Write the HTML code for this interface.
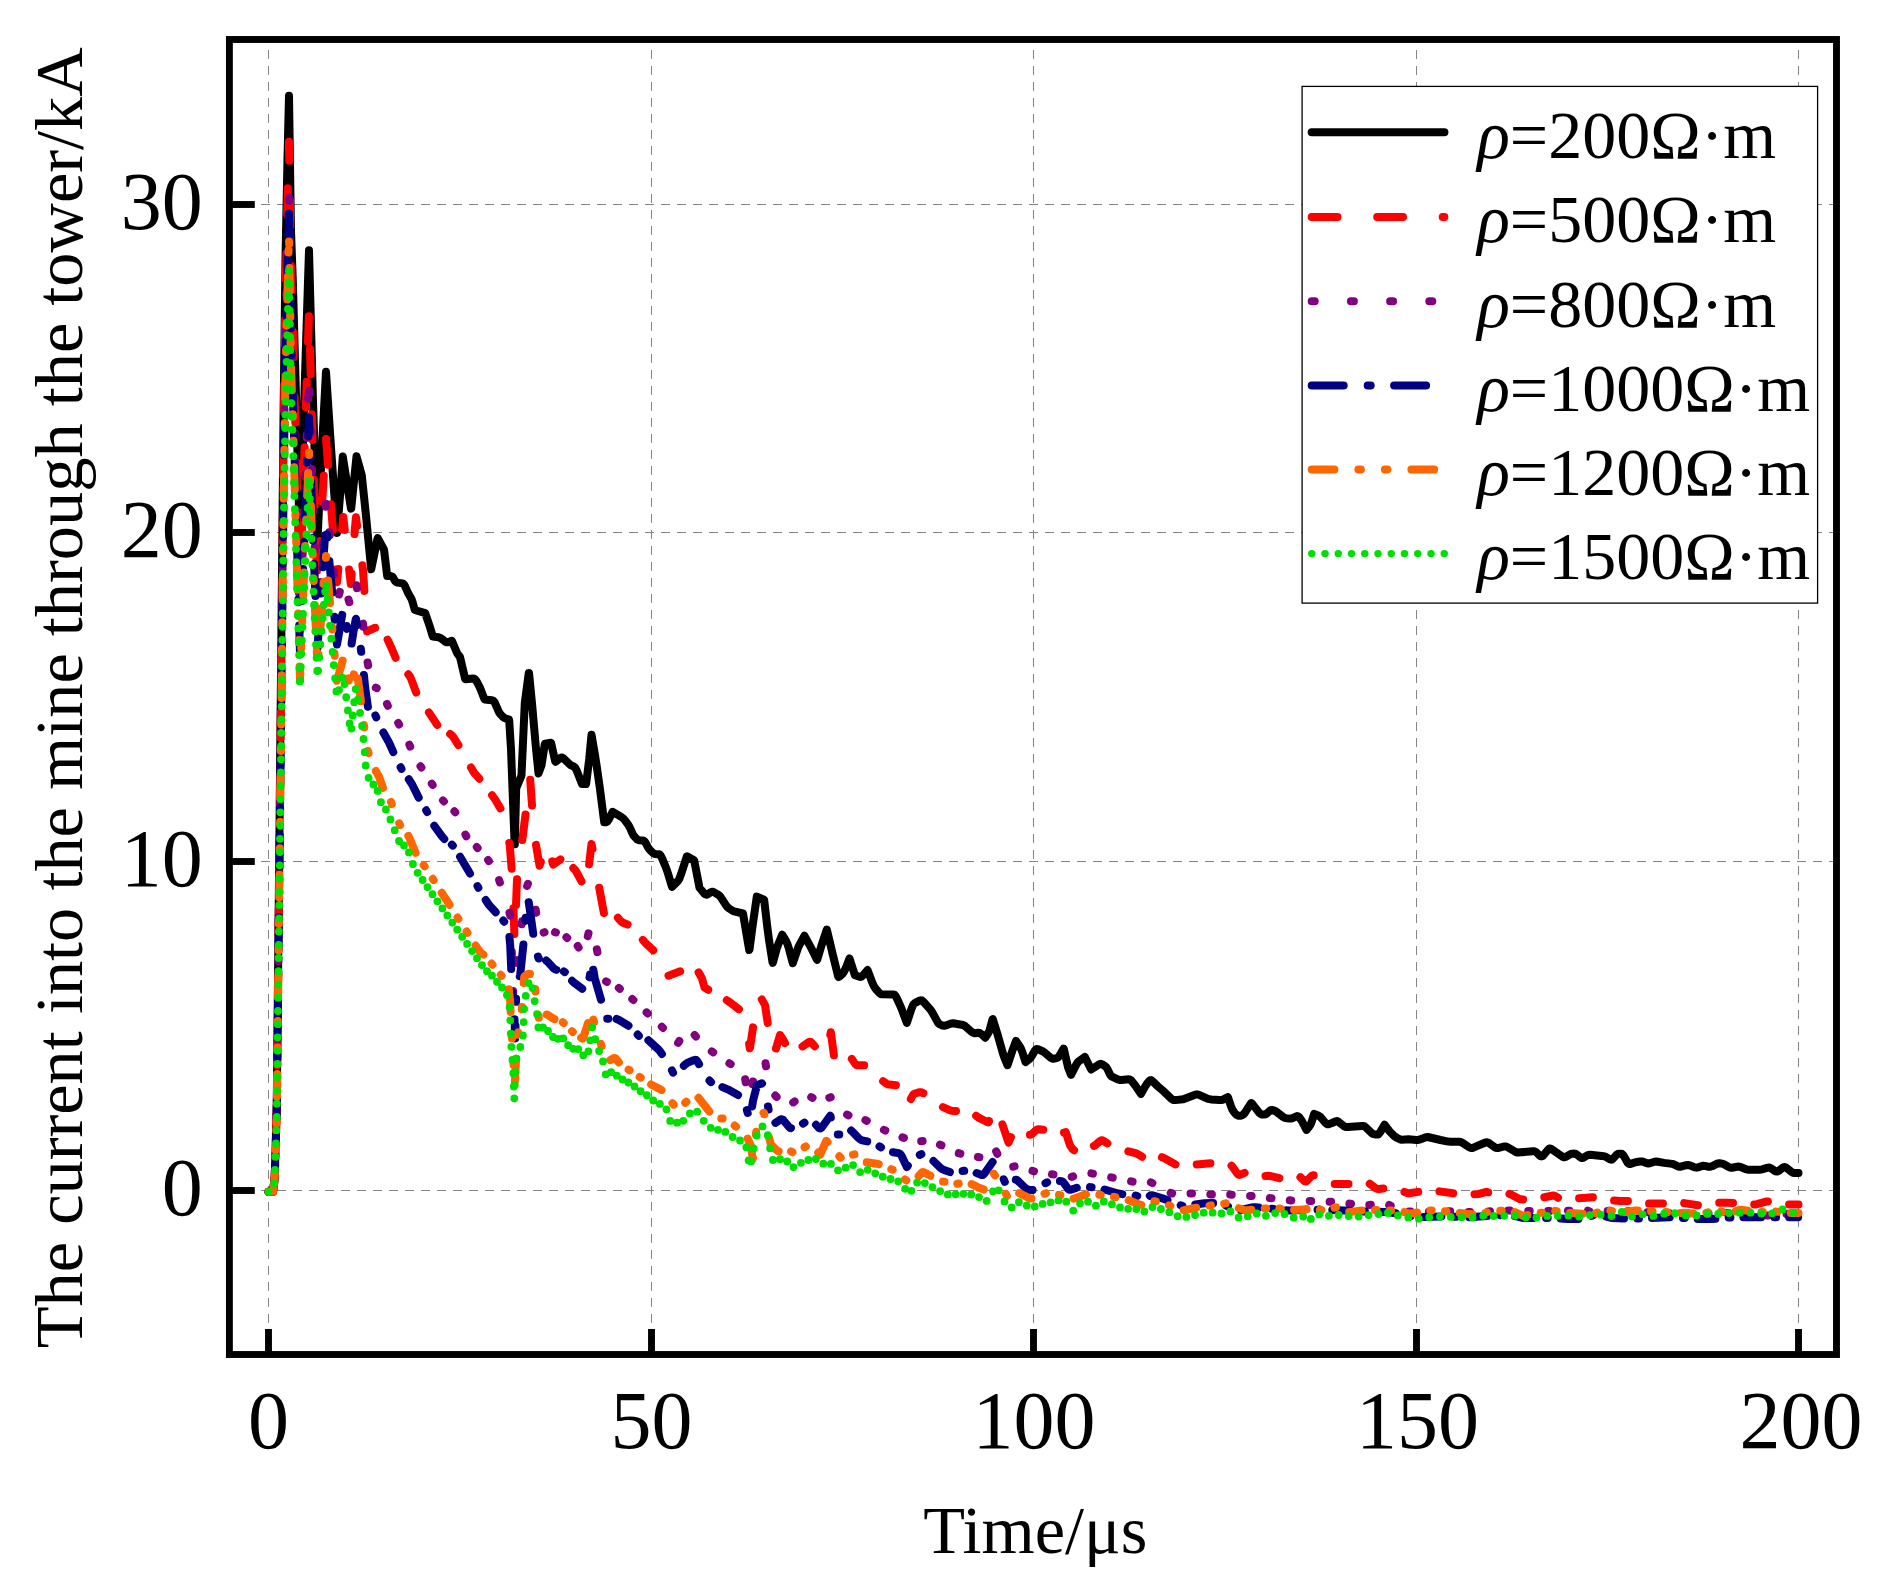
<!DOCTYPE html>
<html lang="en"><head><meta charset="utf-8"><title>Current into the mine through the tower</title>
<style>html,body{margin:0;padding:0;background:#fff}svg{display:block}text{font-family:"Liberation Serif","DejaVu Serif",serif;fill:#000}</style></head><body>
<svg width="1887" height="1595" viewBox="0 0 1887 1595">
<rect width="1887" height="1595" fill="#fff"/>
<defs><clipPath id="ax"><rect x="229.4" y="39.5" width="1607.1" height="1315.0"/></clipPath></defs>
<g stroke="#858585" stroke-width="1" stroke-dasharray="8.9 7.1" fill="none" shape-rendering="crispEdges" clip-path="url(#ax)">
<path d="M268.5 1354.5 V39.5"/>
<path d="M651.5 1354.5 V39.5"/>
<path d="M1033.5 1354.5 V39.5"/>
<path d="M1416.5 1354.5 V39.5"/>
<path d="M1798.5 1354.5 V39.5"/>
<path d="M229.4 1190.5 H1836.5"/>
<path d="M229.4 861.5 H1836.5"/>
<path d="M229.4 532.5 H1836.5"/>
<path d="M229.4 204.5 H1836.5"/>
</g>
<g fill="none" stroke-linejoin="round" stroke-linecap="round" clip-path="url(#ax)">
<path stroke="#000000" stroke-width="8.0" d="M268.5 1191.8L273 1191.8L274.5 1178.8L274.8 1175.3L276.8 1103.3L283.5 417.8L285.5 258.3L287.5 158.2L289 95.7L291 230.5L293 286.4L300 546L304.5 391.5L309 250.2L313 401.4L317.5 539.4L322 447.4L326 371.8L331 447.4L337 532.9L340.5 490.1L342.8 456.6L351 508.6L351.2 508.5L356.5 456.3L361.8 475.4L366 515.8L371.2 569.3L377.5 538.7L377.8 538.1L384 549.6L387.2 576.1L390.8 576.1L392.2 576.5L393 577.4L395.2 581.2L396 582L397.5 582.6L402.5 583.4L403.2 583.7L404 584.4L405.2 586.5L408.2 593.3L411.5 599L412.5 601.9L414.8 610L425.2 613.1L429.5 625.7L432.8 636.5L438.5 637.3L440 637.8L441.5 638.7L445.2 641.7L446.5 642.3L448 642.2L451.8 640.8L452 641.1L457.2 653.3L460 657L465.2 679L465.5 679.2L473.2 678.4L474.2 678.6L475 679.1L476.8 681.6L479.8 687.3L484.5 699.4L491.8 700.2L493.2 700.8L494 701.5L494.8 702.7L498.5 711.2L499.5 713L500.5 714.3L503 716.9L504.5 718.1L507.5 719.2L509 719.5L509.2 720.6L511 749.1L514.5 841.3L514.8 844.3L516.2 788.2L521.2 776.2L521.5 775.1L524.8 702.9L528.8 672.9L529 672.9L532 703.4L535.8 746.5L538.5 773.4L541.5 765.4L544.8 744.1L545 743.8L551 742.8L551.2 743.3L555.2 761.3L555.5 761.8L560.8 757.6L561.8 757.4L563 758L569.8 764.4L571.2 765.4L574 766.7L575.2 767.8L577 771.2L582 784.1L586 784.1L586.2 783.2L589.2 759.2L591.5 734.8L595 755.1L597 768.1L599.8 787.7L604.2 822.3L606.2 822.2L607.2 821.7L608.8 819.4L612.5 811.9L612.8 811.8L621.2 816.9L623.2 818.4L625 820.4L628.5 825.2L629.8 827.5L633 834.7L634 836.1L635.8 838L637.2 839.4L638.5 840.1L639.5 840.3L643 840.4L644.2 841L645.5 842.7L648 847.3L649.2 849.2L651.5 851.6L653.5 853.4L655 854L659 854.2L659.8 854.6L660.5 855.3L662.2 858.6L666.2 868.2L668 873.5L672 886.9L677.8 881.1L678.8 879.8L679.5 878.4L681.2 873.7L686.8 856.4L687 856.3L694 860.3L694.2 860.5L699.5 887.8L704 893.2L705.2 894.3L706.5 894.7L707.5 894.3L710.5 892.4L711.8 891.8L712.8 891.8L714.2 892.4L718.2 894.7L719.8 896L721.2 897.9L726.2 905.6L727.5 907.1L728.8 908.2L732.2 910.5L734 911.4L743 913.5L749.2 950L749.5 949.4L752.5 926.6L756.8 896.6L764 899.6L764.2 900.2L767.2 926.3L769 939.9L772.5 962.2L772.8 962.9L777 947.7L778.8 943L782.2 934.7L786 940.8L787.5 944.1L789 948.9L792.8 963.1L798.2 947.5L800 943.9L804.5 935.8L810.8 947.3L817 959.7L817.2 959.8L821.8 944.4L826.8 929.5L833 955.5L838.2 976.5L838.5 977L840 976.2L842.8 973.5L844 971.8L845.8 968.1L849.5 958.4L854.8 975L855 975.3L859.5 976.8L860.5 976.9L861.2 976.7L862.8 975.5L867.5 970L872.5 983.1L874 986.4L875.8 989L879.5 993.2L880.8 994L882 994.3L893.5 994.4L894.5 994.8L895.5 995.8L897.2 999L901.2 1007.8L906.8 1022.9L911.5 1008.8L913.2 1004.8L914 1003.8L915.2 1002.8L919.5 1000.7L921 1000.3L922 1000.5L923.2 1001.5L930.2 1009.3L932.2 1012.3L937.5 1021.9L938.5 1023.3L939.8 1024.4L942.5 1025.5L944.2 1025.8L945.8 1025.4L951.2 1023.4L953 1023.2L963 1025L964 1025.4L965.2 1026.2L971.5 1031.7L973 1032.8L974.5 1033.3L978.5 1032.8L979.8 1032.9L981.2 1033.9L985.2 1037.7L988 1033.5L989.5 1030.5L992.5 1019.2L992.8 1019.1L997.8 1035.3L1003 1053.6L1004.5 1057.9L1007.5 1065.2L1012.2 1051.2L1016 1041L1019.5 1046L1021 1048.7L1022.5 1052.6L1025.5 1062.1L1029 1059.3L1030.5 1057.8L1031.8 1056.1L1035 1050.5L1035.8 1049.6L1036.5 1049.1L1037.2 1049.1L1038 1049.2L1043 1051.5L1044.8 1052.7L1051 1058L1052 1058.5L1053.2 1058.7L1056.8 1058.1L1058.2 1057.3L1059.8 1055.3L1063.5 1048.6L1063.8 1048.9L1068 1067.2L1071 1074.8L1076 1065.1L1077.5 1062.6L1079.2 1060.9L1084.8 1056.9L1091.2 1069.5L1099.5 1064.1L1100.8 1063.8L1102 1064.2L1105 1066.1L1106.5 1067.5L1107.5 1069.1L1110 1074.5L1111 1075.9L1112 1076.6L1117.8 1079.3L1119.8 1079.9L1121.5 1080L1128.8 1079.3L1129.8 1079.5L1130.8 1080L1132.2 1081.6L1135.8 1086.3L1141 1093.9L1145.2 1086.4L1147 1083.6L1149.5 1080.7L1150.2 1080.2L1151 1080.1L1152.2 1080.9L1158 1086.5L1164.2 1091.8L1171.5 1098.9L1173.2 1100L1175.2 1100.1L1183.2 1099.2L1195.2 1094.7L1197 1094.3L1199 1094.8L1208 1098.8L1211 1099.4L1219.5 1100.1L1221.2 1100.1L1223 1099.6L1227.8 1097.2L1228 1097.4L1231 1106.3L1232.5 1109.8L1233.8 1111.8L1235.2 1113.6L1236.5 1114.8L1237.5 1115.4L1239 1115.8L1240.5 1115.8L1242.2 1115.2L1243.5 1114.4L1245 1112.6L1251.2 1102.9L1251.5 1102.9L1259.2 1112.7L1260.5 1113.9L1261.5 1114.4L1263.8 1114.6L1265.5 1114.3L1266.8 1113.5L1270 1110.6L1270.8 1110.2L1271.8 1110L1273.8 1110.5L1276 1111.5L1283.2 1117L1284.5 1117.7L1285.5 1118.1L1289.2 1118.6L1291 1118.6L1292.5 1118.2L1296.5 1116.3L1297.2 1116.1L1298 1116.3L1299.5 1117.6L1301.8 1120.8L1306.5 1129.9L1309.2 1126.5L1310.8 1124L1311.8 1121.4L1314 1114.2L1314.2 1113.8L1318.5 1115.7L1320 1116.6L1321.5 1118.2L1325.5 1123L1327 1124.2L1328 1124.3L1329.2 1124L1332 1123L1335.5 1121.4L1336.8 1121.1L1338.2 1121.6L1344.2 1126.3L1346 1127.1L1347.8 1127.1L1362 1125.9L1363.5 1125.9L1364.5 1126.3L1365.5 1127.1L1372 1133.3L1373.2 1134L1375 1134.5L1377.5 1134.6L1378.2 1134.4L1379 1133.7L1380.5 1131.6L1384.5 1124.8L1389.5 1131.3L1394 1135.9L1395.2 1136.8L1397.2 1138L1400.2 1139.4L1401.8 1139.8L1408.5 1139.3L1416.5 1139.9L1418.2 1139.9L1420 1139.4L1425.8 1137.2L1427.8 1137L1440.5 1140L1448.2 1141.6L1450.5 1141.7L1459 1141.8L1460.5 1142L1462.5 1142.9L1469.5 1147.5L1471.2 1148.1L1472.2 1148L1473.8 1147.4L1485.5 1142.5L1487 1142.3L1488.5 1142.8L1494.8 1147.3L1496.2 1148L1497.8 1148.1L1504 1146.5L1505.8 1146.4L1507.5 1147.1L1515.5 1151.9L1517.5 1152.6L1532.8 1151.3L1534.5 1151.3L1536 1152L1539.5 1155.4L1540.5 1156.1L1541.2 1156.4L1542 1156.3L1543 1155.7L1548.2 1149.5L1549.2 1148.7L1550 1148.5L1550.8 1148.6L1551.8 1149.2L1562.2 1156.5L1564 1157.3L1565.5 1156.9L1570.8 1153.9L1572 1153.7L1574.2 1153.6L1575.5 1153.8L1576.5 1154.3L1580.5 1157.4L1581.8 1158L1582.5 1158L1583.2 1157.8L1588.2 1154.9L1590.2 1154.7L1604 1156.2L1605.8 1156.8L1610 1159.4L1611.2 1159.7L1612 1159.5L1612.8 1158.9L1616 1155.4L1617.2 1154.3L1618.5 1153.7L1620.8 1153.7L1622 1154L1623 1154.9L1624 1156.3L1627.5 1162.5L1628.5 1163.6L1629.5 1164L1630.5 1163.9L1635.5 1162.2L1640.2 1161.5L1642.5 1161.6L1646.8 1163.2L1648.2 1163.5L1649.8 1163.2L1654.5 1161.7L1656.2 1161.5L1664.2 1162.9L1672.2 1163.9L1673.8 1164.4L1678 1166.4L1679.2 1166.8L1680.8 1166.7L1686.2 1165.2L1688 1165L1689.5 1165.3L1695 1167.4L1696.5 1167.7L1698 1167.4L1702 1166L1703.2 1165.8L1704.8 1165.9L1708.8 1166.8L1710.2 1166.8L1711.8 1166.3L1717.2 1163.6L1718.5 1163.2L1719.5 1163.2L1722 1163.6L1723.5 1164L1728.8 1167L1730.2 1167.7L1731.8 1167.7L1737.2 1166.7L1738.8 1166.6L1740.5 1167L1746.2 1169.3L1748 1169.7L1760.2 1169.7L1762 1169.3L1767.8 1167.7L1769.2 1167.6L1770.8 1168.2L1775.5 1171.3L1776.8 1171.6L1777.5 1171.5L1778.5 1171L1783.2 1167.4L1784 1167.1L1784.8 1167L1786.2 1167.7L1791.5 1171.9L1793 1172.8L1794.5 1173.1L1798.5 1173.1"/>
<path stroke="#ff0000" stroke-width="8.0" d="M268.5 1191.8L273 1191.8L274.5 1179.3L274.9 1170.6M276.1 1131L276.8 1105.2M277.2 1065.5L277.5 1039.7M277.9 1000L278.1 974.2M278.5 934.5L278.8 908.7M279.2 869L279.5 843.2M279.9 803.5L280.2 777.7M280.6 738L280.8 712.2M281.2 672.5L281.5 646.7M281.9 607L282.2 581.2M282.6 541.5L282.8 515.7M283.2 476L283.5 450.2M284 410.5L284.3 384.7M284.9 345L285.2 319.2M285.9 279.5L286.4 253.7M287.2 214L287.8 188.2M288.8 148.6L289 141.7L289.3 160.7M289.9 200.4L290.2 226.2M290.8 265.9L291 278.5L291.5 291.7M292.9 331.4L293.6 357.2M294.6 396.9L295.3 422.6M296.4 462.3L297.1 488.1M298.1 527.8L298.8 553.6M299.9 593.3L300 598.6L300.6 578.1M301.8 538.4L302.6 512.6M303.8 473L304.6 447.2M305.9 407.5L306.7 381.7M308 342L308.9 316.2M310 348.7L310.7 374.5M311.8 414.2L312.5 440M313.8 479.7L314.7 505.5M316 545.1L316.9 570.9M318.7 566.9L320.1 541.1M322.2 501.5L323.8 475.7M326.1 439L328 464.7M330.9 504.3L332.9 530M336 569.6L337 582.2L338.3 569M342.1 529.5L343.2 517L344.8 530M349.1 569.5L350.8 584.1L351 584L351.7 573.7M354.5 534.1L355.8 518.3L356 517.2L357.1 525.9M362.4 565.2L363 570L364.4 590.9M366.9 630.5L367 631.4L374.5 628L375.1 627.9M387.6 639.6L392.2 649.7L395.6 657.8M408.3 674.3L409.8 676.2L411 678.7L416.2 692.5M428.9 712.4L437.2 724.9M450.1 734L452 735.4L453.2 736.9L458.4 745.2M471 767.5L474.2 772.9L479.3 778.7M492.1 795.2L495.5 800L500.4 808.4M509.3 843L509.8 845.3L510 848L511.6 868.7M513.4 908.3L514.4 934.1M516 905.1L517 879.3M522.3 840.1L525.5 814.5M530.2 779.7L532 805.4M536 844.9L539.5 865.7L540.8 861.9M552.2 861.3L553.2 864.6L560.4 859.4M573.3 868.1L575 869.8L576.2 871.5L581.5 881.4M589.1 864.4L591.5 843.9L592.5 848.8M599.2 887.8L603.9 913M617.9 917.7L620 920.4L621.5 921.8L623 922.7L627.5 924.5M642.8 939.9L646.2 943.8L653.2 950.3M668.5 975.7L680.2 971.3M698.6 972.4L700.2 975.1L701.8 977.9L704.5 987.5L708.3 989.7M726.8 1000.2L730 1002.4L738.9 1009.2M749.1 1043.9L749.8 1048.3L750 1047.9L753 1027.4M761.8 999.4L765 1005.1L767.7 1022.9M776 1048.5L780 1035.1L780.2 1035.2L783 1039.4L785 1043.1M802.5 1046.4L808.2 1042.4L809.2 1041.9L810 1041.7L810.8 1042L811.5 1042.6L814.8 1046.3M830.3 1034.5L830.8 1032.2L831 1033.4L833.9 1055.3M851.8 1058.9L854.8 1063.4L855.8 1064.5L856.5 1065L858 1065.3L864.2 1065.3M883.1 1081.3L886.5 1083.6L888 1084.3L889.5 1084.6L895.9 1085.2M910.8 1099L912.8 1095.3L913.5 1094.4L914.5 1093.7L918.2 1092.5L920 1092.2L921.2 1092.3L923.3 1093.2M942.9 1107.1L950.8 1110.6L952.5 1110.9L956 1110.9M976.1 1115.8L979 1117.9L988.2 1122.5L988.5 1122.3L989 1121M1002.4 1124.4L1008.5 1142.6L1010.9 1137.2M1029.9 1134.7L1030.8 1134.7L1031.8 1134.2L1035.8 1130.4L1037.2 1129.4L1038.8 1129.2L1043.2 1129.7M1064 1132.6L1065.8 1132.1L1068.8 1141.8L1070.2 1145.6L1072.2 1148.7L1073.2 1149.7L1074.1 1150.2M1093.9 1145.9L1095 1145.4L1100 1141.1L1101.5 1140.3L1102.2 1140.2L1103.2 1140.6L1107.4 1143.3M1128.4 1151.3L1136.5 1153.4L1142.1 1156.7M1161.9 1157.2L1164.8 1158.4L1175.5 1164.4M1196.7 1164.4L1210.4 1163.2M1231.5 1165.7L1233.2 1167.7L1237.2 1173.5L1238.5 1174.7L1239.2 1174.9L1240 1174.8L1244.6 1172.9M1265.5 1176.1L1268.2 1175.8L1269.8 1175.9L1279.3 1178.1M1300.4 1177.2L1304.2 1180.9L1305 1181.4L1305.8 1181.5L1306.5 1181.2L1307.2 1180.6L1311.8 1175.8L1312.8 1175.3L1313.7 1175.3M1334.7 1184.1L1348.5 1184.1M1369.7 1183.8L1375 1187.8L1376.8 1188.8L1378.5 1189L1383.3 1188.5M1404.5 1192L1407.2 1193L1409 1193.3L1418.2 1191.9M1439.5 1191.4L1453.2 1193.2M1474.5 1194.2L1478.2 1194.1L1485.5 1192.1L1486.8 1192L1488.2 1192.3M1509.4 1193.9L1511 1194.5L1519.5 1199L1521 1199.3L1523.1 1199.4M1544.3 1197.2L1553.2 1195.5L1555 1195.9L1558 1197.7M1579.1 1198.2L1592.9 1197.2M1614.1 1200.6L1620.2 1201.1L1627.9 1201.1M1649.1 1203.6L1662.9 1203.4M1684.2 1203.1L1697.9 1205.2M1719.2 1202.8L1727.5 1202.8L1733 1203.1M1754.2 1204.4L1756.8 1204.2L1766 1201.6L1767.9 1201.4M1789.1 1204.5L1798.5 1204.5"/>
<path stroke="#800080" stroke-width="8.0" d="M268.5 1191.8L271.5 1191.8M275.3 1157.3L275.4 1154.3M276.5 1118.1L276.6 1115.1M277.1 1078.9L277.2 1075.9M277.5 1039.7L277.6 1036.7M278 1000.5L278 997.5M278.4 961.3L278.4 958.3M278.8 922.1L278.8 919.1M279.2 882.9L279.3 879.9M279.6 843.7L279.7 840.7M280.1 804.5L280.1 801.5M280.5 765.3L280.5 762.3M280.9 726.1L280.9 723.1M281.3 686.9L281.3 683.9M281.7 647.7L281.8 644.7M282.2 608.5L282.2 605.5M282.6 569.3L282.6 566.3M283 530.1L283 527.1M283.4 490.9L283.4 487.9M283.9 451.7L284 448.7M284.4 412.5L284.5 409.5M285 373.3L285 370.3M285.6 334.1L285.6 331.1M286.4 294.9L286.5 291.9M287.3 255.7L287.3 252.7M288.2 216.6L288.3 213.6M289.2 198.1L289.2 201.1M289.7 237.3L289.8 240.3M290.3 276.5L290.4 279.5M290.9 315.7L291 318.7M292.2 354.9L292.4 357.9M293.5 394.1L293.6 397.1M294.6 433.3L294.7 436.3M295.6 472.5L295.7 475.5M296.7 511.6L296.8 514.6M297.8 550.8L297.9 553.8M298.9 590L298.9 593M299.9 629.2L300 630.7M301.2 594.5L301.3 591.5M302.6 555.4L302.7 552.4M303.9 516.2L304 513.2M305.3 477L305.4 474M306.7 437.8L306.8 434.8M308.1 398.7L308.2 395.7M309.5 390.7L309.6 393.7M310.7 429.9L310.8 432.9M311.9 469.1L312 472.1M313.1 508.2L313.2 511.2M314.6 547.4L314.7 550.4M316.1 586.6L316.2 589.6M317.6 624L317.8 621M320.1 584.9L320.3 581.9M322.7 545.8L323 542.8M325.5 506.7L325.7 503.7M329.4 532.3L329.7 535.3M333.6 571.2L333.9 574.2M339.1 594.5L339.8 591.8M348.5 599.5L349.3 602.2M356.4 585.2L357 588.2M363 623.6L363.4 626.6M367.6 662.5L368.1 665.4M375.8 687.7L376.7 688.1M387 703.9L387.8 705.8M398.2 722.9L399.1 724.5M409.4 744.7L410.2 746.6M420.5 766.2L421.4 767.5M431.8 783.7L432.6 784.9M443 800.4L443.9 801.4M454.4 811.3L455.2 812.3M465.4 834.6L466.3 836.2M476.8 847.1L477.6 848M488.1 860L488.9 861.1M499.1 880L499.9 882.5M509.5 912.9L510.2 915.6M511.8 951.7L511.9 954.7M513.1 990.9L513.2 993.9M517.2 963.1L517.6 960.1M521.7 924.2L522.1 921.2M527.1 886L527.9 883.8M535.7 909.8L536.2 912.7M543.7 932.5L544.5 932.2M555 932.2L555.9 932.5M566.4 937.2L567.2 937.9M577.7 946L578.6 947.5M587.8 936.1L588.5 933.3M596.8 949.3L597.4 952.1M606 981.4L606.9 981.8M618.8 987.9L619.8 988.8M632.3 999.1L633.4 1000M646.6 1012.4L647.7 1013.5M661.8 1026.8L663 1027.9M678.1 1042.9L679.3 1041M694.6 1035L695.9 1036.6M711.8 1051.4L713.2 1052.3M729.4 1063.3L730.7 1064.1M745.2 1079.3L745.7 1082.3M752.5 1084.4L753 1081.5M765.5 1063.3L766 1066.3M775.3 1095.6L776.6 1096.9M793.2 1102.4L794.6 1101.4M811.2 1097.1L812.6 1097.8M829.3 1097.7L830.7 1097.2M847.1 1114.6L848.5 1115.3M865.4 1120.1L866.8 1120.8M883.9 1129.9L885.3 1130.5M902.4 1137.4L903.9 1137.9M921.2 1141.2L922.6 1141.1M940 1144.7L941.4 1145.3M958.8 1153.2L960.3 1153.6M977.9 1157L979.4 1157.2M996.1 1151.3L997.3 1153.8M1013.2 1166.6L1014.6 1166.3M1032.5 1170.9L1034 1171.3M1052 1174.2L1053.5 1174.4M1071.7 1176.9L1073.2 1176.4M1091.4 1173.3L1092.9 1173.6M1111.2 1177.3L1112.7 1177.6M1131.1 1181.4L1132.6 1181.7M1150.9 1182.3L1152.4 1183M1170.6 1192.9L1172.1 1193.4M1190.5 1193.6L1192 1193.6M1210.3 1194.4L1211.9 1194.5M1230.2 1194.6L1231.7 1194.7M1250.1 1195.9L1251.6 1196M1269.9 1198.1L1271.5 1198.3M1289.8 1200.3L1291.3 1200.5M1309.7 1201.1L1311.2 1201.1M1329.6 1201.7L1331.1 1201.8M1349.4 1203.6L1351 1203.8M1369.3 1204.9L1370.8 1204.8M1389.2 1205L1390.7 1205.6M1409 1211.5L1410.5 1211.6M1428.8 1211.8L1430.4 1211.8M1448.7 1211.3L1450.2 1211.3M1468.6 1211.9L1470.1 1211.9M1488.5 1211.4L1490 1211.3M1508.3 1210.6L1509.9 1210.6M1528.2 1211.1L1529.7 1211.1M1548.1 1211.1L1549.6 1211M1568 1210.8L1569.5 1210.7M1587.8 1210.7L1589.3 1211.2M1607.7 1210.9L1609.2 1210.8M1627.6 1211.2L1629.1 1211.3M1647.4 1212.3L1649 1212.3M1667.3 1212.8L1668.8 1212.9M1687.2 1213.4L1688.7 1213.5M1707.1 1213.7L1708.6 1213.6M1726.9 1213.1L1728.5 1213.1M1746.8 1214L1748.3 1214.1M1766.7 1215.4L1768.2 1215.4M1786.5 1213.9L1788.1 1213.8"/>
<path stroke="#000080" stroke-width="8.0" d="M268.5 1191.8L273 1191.8L274.5 1180.2L274.8 1177L275.1 1164.5M275.9 1140.5L276 1137.5M276.7 1114.1L277.1 1082.1M277.4 1058.1L277.4 1055.1M277.7 1031.7L278 999.7M278.3 975.7L278.3 972.7M278.6 949.3L278.9 917.3M279.2 893.3L279.2 890.3M279.5 866.9L279.8 834.9M280.1 810.9L280.1 807.9M280.4 784.5L280.7 752.5M281 728.5L281 725.5M281.3 702.1L281.6 670.1M281.9 646.1L281.9 643.1M282.2 619.7L282.5 587.7M282.8 563.7L282.8 560.7M283.1 537.3L283.4 505.3M283.7 481.3L283.8 478.3M284.1 454.9L284.5 422.9M284.9 398.9L284.9 395.9M285.2 372.5L285.9 340.5M286.4 316.5L286.5 313.5M287 290.1L287.7 258.2M288.4 234.2L288.5 231.2M289 213.8L289.5 245.7M289.9 269.7L289.9 272.7M290.3 296.1L290.8 328.1M291.3 352.1L291.4 355.1M292.3 378.5L293.3 410.5M294 434.5L294.1 437.5M294.7 460.9L295.6 492.9M296.2 516.9L296.3 519.9M297 543.2L297.8 575.2M298.5 599.2L298.6 602.2M299.2 625.6L300 654.5L300.1 651.3M301 627.3L301.1 624.4M301.9 601L303.1 569M304 545L304.1 542M305 518.6L306.3 486.6M307.2 462.7L307.3 459.7M308.3 436.3L309 417.8L309.4 431.3M310.2 455.3L310.3 458.3M311.1 481.7L312.2 513.7M313 537.7L313.1 540.7M314.1 564.1L315.4 596M316.4 620L316.5 623M317.4 646.4L317.5 647.9L319.5 617.5M321.1 593.5L321.3 590.5M322.9 567.2L325.1 535.3M327 534.6L327.3 537.6M329.3 560.9L332.2 592.8M334.4 616.7L334.7 619.7M336.8 643L337 644.6L342.2 614.9M346.6 626L347.1 628.9M351.6 643.5L353.5 631.5L355.8 619.1L356 618.9L357 625.2M360.8 648.8L361.2 651.8M363.9 675L365.2 687.8L367.9 706.7M375.4 715.4L376.3 717.4M383.4 732.5L389 742.5L393.3 752.1M400.6 767.2L401.5 768.9M408.8 779.3L412 784.2L418.7 797.6M426.2 810.3L427.1 812M434.3 825.8L441.8 836.1L444.3 839M451.9 844.7L452.8 845.6M460.1 856.8L470 873.5M477.5 886.1L478.4 887.7M485.7 900L488.8 904.7L495.7 912.3M503.3 920.6L504.2 921.7M509.4 937L510.2 945.4L511.2 969M512.4 992.9L512.7 995.9M514.5 1019.2L515.2 1038.5L515.5 1025.8M516 1001.8L516.1 998.8M519.8 976.3L520.2 974.6L520.5 972.4L523.4 944.6M525.3 920.7L525.6 917.7M528.7 902.2L530.2 911.9L533.2 933.8M538 956.7L538.5 958.4L538.8 958.5M546.2 960.6L547.8 961.9L553.8 968.5L555 969.4L556.3 969.8M563.9 971.5L564.8 972.1M572.1 980.8L574.2 982.8L582.2 988.8M589.5 977.3L589.8 976.5L590 974.4M593.3 969.7L594.8 978.3L601 999.6M607.2 1018.8L608.3 1018.8M616.6 1019L619 1020L628.5 1025.7M637.7 1034.6L638.9 1035.8M648.4 1040.2L658.2 1049.2L659.8 1050.9L661.9 1054M671.9 1070.3L673.1 1072.7M683.8 1065.7L685.8 1063.9L687.2 1062.9L693.5 1060.3L695.2 1059.8L696.2 1060L697 1060.7L699 1064.1M709.5 1080.6L711 1082.1M722.4 1087.1L728.2 1089.6L738 1095.1M746.9 1110.1L747.7 1113M752.1 1106.4L753 1100.8L757 1085.2L761.8 1083.3L762 1083.5M768 1106.5L768.6 1109.5M775.4 1122.8L780 1119.8L781.2 1119.3L782 1119.3L782.8 1119.7L783.8 1120.7L789 1127L790 1127.8L791 1128.1M803 1123.6L804.5 1122.6M816 1124.8L819.2 1128.1L820 1128.5L820.8 1128.3L821.5 1127.7L822.5 1126.5L830.2 1115.7L830.5 1116L830.8 1117.5M837.8 1134.6L839.3 1134.6M851.2 1130.6L852.5 1131.7L858.2 1137.8L860 1139.3L862.2 1140.3L867.2 1141.4M879.5 1146.4L881 1147.4M893 1152.2L898.5 1153.1L900 1153.8L900.8 1154.6L901.8 1156.3L906.8 1167L907.8 1165.7M919.8 1154.9L921.4 1154.1M933.4 1161L940.2 1167.7L941.8 1168.9L944 1170L949.9 1172.1M962.6 1171L964.2 1170.8M976.6 1173.1L981.5 1174.9L982.5 1175L983.2 1174.7L985 1172.8L992.6 1162M1003.7 1179.3L1004.8 1181.9M1015.8 1179.7L1016.5 1179.8L1017.5 1180.4L1024.8 1187.5L1026.5 1189L1028.8 1189.7L1031.2 1190.1L1032.6 1190.1M1045.5 1183.2L1047.1 1182.4M1059.9 1181.1L1061.8 1181.2L1063 1181.9L1064.2 1183.4L1067.8 1188.5L1068.5 1189.3L1069.2 1189.8L1070.8 1189.8L1076.8 1187.8M1090 1187.1L1091.6 1187.3M1104.6 1189.5L1117 1193.3L1122.3 1194.1M1135.6 1195.6L1137.2 1196.1M1149.8 1195.8L1151 1195.2L1152.5 1195.3L1163.2 1198.6L1167.5 1200.1M1180.7 1205.3L1182.3 1205.8M1195.3 1204.5L1204.5 1203.2L1213.1 1203.1M1226.3 1205.8L1228 1206.4M1240.9 1210L1253.2 1207.2L1255 1207.2L1258.6 1207.5M1271.9 1208.8L1273.6 1209M1286.5 1210.3L1289.5 1210.4L1304.3 1210M1317.6 1209.7L1319.3 1209.6M1332.3 1210L1350 1210.8M1363.3 1211.4L1365 1211.4M1378 1211.8L1389.2 1212.2L1395.7 1213.3M1409 1215.8L1410.6 1216.1M1423.6 1217L1441.4 1216.4M1454.7 1216.8L1456.3 1216.8M1469.3 1217.2L1472.5 1217.1L1487.1 1216.1M1500.4 1215.2L1502 1215.1M1515 1216.2L1523.5 1218L1532.7 1218.1M1546.1 1218.1L1547.7 1218.1M1560.7 1218.6L1567.8 1218.9L1578.4 1218.9M1591.7 1215.8L1593.3 1215.1M1606.3 1216.6L1612.2 1218L1624 1218.6M1637.3 1218.6L1639 1218.6M1652 1218.1L1669.7 1217.3M1683 1218L1684.7 1218.1M1697.7 1218.9L1712 1218.9L1715.4 1218.7M1728.7 1217.6L1730.4 1217.5M1743.4 1217.2L1761.1 1217.2M1774.4 1217.2L1776.1 1217.2M1789.1 1217.2L1798.1 1217.2"/>
<path stroke="#ff6600" stroke-width="8.0" d="M268.5 1191.8L273 1191.8L274.5 1180.4L274.9 1173.8M275.6 1149.8L275.7 1147.3M276.5 1123.3L276.5 1120.8M277 1096.8L277.2 1074.1M277.5 1050.1L277.5 1047.6M277.8 1023.6L277.8 1021.1M278.1 997.1L278.4 974.4M278.6 950.4L278.6 947.9M278.9 923.9L278.9 921.4M279.2 897.4L279.5 874.7M279.7 850.7L279.8 848.2M280 824.2L280.1 821.7M280.3 797.7L280.6 775M280.9 751L280.9 748.5M281.2 724.5L281.2 722M281.5 698L281.7 675.3M282 651.3L282 648.8M282.3 624.8L282.3 622.3M282.6 598.3L282.8 575.6M283.1 551.6L283.1 549.1M283.4 525.1L283.4 522.6M283.7 498.6L284.1 475.9M284.4 451.9L284.4 449.4M284.8 425.4L284.8 422.9M285.1 398.9L285.5 376.2M286 352.2L286.1 349.7M286.6 325.7L286.7 323.2M287.3 299.3L287.8 276.6M288.5 252.6L288.6 250.1M289.1 241.5L289.2 244M289.5 268L289.9 290.7M290.2 314.7L290.2 317.2M290.6 341.1L290.6 343.6M291 367.6L291.8 390.3M292.7 414.3L292.8 416.8M293.5 440.8L293.6 443.3M294.2 467.3L294.8 490M295.5 514L295.5 516.5M296.2 540.5L296.3 543M296.9 567L297.5 589.6M298.2 613.6L298.2 616.1M298.9 640.1L299 642.6M299.6 666.6L300 680.8L300.3 672.2M301.2 648.2L301.3 645.7M302.2 621.8L302.3 619.3M303.2 595.3L304.1 572.6M305 548.6L305.1 546.1M306.1 522.1L306.2 519.6M307.2 495.6L308.1 473M309.1 452.4L309.1 454.9M310 478.9L310.1 481.4M310.9 505.4L311.7 528M312.6 552L312.7 554.5M313.6 578.5L313.7 581M314.8 605L315.8 627.7M316.8 651.6L316.9 654.1M318.3 657.1L318.5 654.6M320.2 630.7L321.9 608.1M323.8 584.1L324 581.7M325.9 557.7L326 555.9L326.1 556.5M328.1 580.4L330 603M332.1 626.9L332.4 629.4M334.5 653.3L334.7 655.8M336.9 679.7L337 680.8L342.6 660.6M348 678.3L348.5 680.7M353.4 676.8L353.8 674.4M357.9 678.6L360.9 701.1M363.9 724.9L364.2 727.3M367.9 750.8L368.6 753.1M375.8 771L378.8 776.2L383 787.9M391 801.9L391.8 804.1M399.2 823.4L400.1 825.1M408.3 835.8L410 839.4L415.6 852.8M423.7 865.1L424.6 866.3M432.8 878.8L433.6 880.1M441.7 892.8L449.5 904.8M457.6 917.5L458.4 918.8M466.6 931.5L467.4 932.8M475.6 945.5L479.8 951.7L481 952.9L483.4 954.6M491.6 963.6L492.5 964.7M500.7 974.8L501.6 975.9M508.8 989.3L510.2 1001.9L510.6 1011.9M511.7 1035.9L511.9 1038.4M513.5 1062.3L513.6 1064.8M514.9 1081.4L516.1 1058.7M517.3 1034.7L518 1032.4M521.8 1009.4L521.9 1006.9M523.7 982.9L524.2 977.1L524.5 976.4L527.8 974.1L528.8 973.8L530 973.9M535.2 989.1L535.4 991.5M538.2 1015.2L538.7 1017.7M546.6 1014.5L548 1015L552.5 1018.1L554.5 1019.1M562.8 1022.3L563.7 1023M572 1031.2L572.8 1031.9M581.1 1037.8L582.5 1038.8L582.8 1038.8L586.2 1028.9L588 1023M593.4 1019.6L594.1 1021.9M600.9 1043.9L601.6 1046.1M610.2 1060.1L613.5 1058.1L614.8 1057.9L615.5 1058.3L616.2 1059L618.9 1062.4M628.6 1069.6L629.6 1070.2M639.6 1076.9L640.7 1077.6M651.1 1084.4L661.5 1090M672.4 1103.2L673.6 1104.6M685.2 1102.8L686.4 1101.7M698.5 1097.8L709.3 1111.5M721.3 1118.5L722.6 1118.6M734.7 1125.6L736 1126.6M747.6 1138.6L750.8 1145.5L752.8 1159L753 1158.1M755.9 1134.3L756.2 1131.8M763.5 1112.9L763.8 1112.7L764 1112.8L764.3 1114.3M769.1 1137.7L771 1144.7L776.8 1150.3L777.8 1151L778.7 1151.3M791.1 1151.4L792.4 1152.2M804.6 1147.2L805.8 1146.4M818.2 1152.6L820.2 1154.7L826.2 1140.9L826.5 1140.8L827.6 1142.2M839.3 1156.3L840.6 1157.6M853 1154.6L854.4 1154.4M866.7 1162.3L876.5 1163.7L878.7 1164.2M891.3 1169.2L892.6 1169.7M905 1179.4L906.3 1180.4M918.6 1176.2L921.5 1172.9L922.2 1172.3L923 1172L924.5 1172.4L930.4 1175.7M943.1 1181.6L944.5 1181.8M957.3 1183.7L958.7 1183.5M971.6 1184.1L977.8 1187.2L983.7 1189.5M993.7 1173.6L994.9 1175.4M1005.8 1193.9L1006.9 1195.9M1019.2 1193.1L1029.2 1198.1L1030.5 1198.5L1031.5 1198.5M1044.5 1193.7L1045.9 1193.2M1059 1194.9L1060.4 1195.2M1073.6 1198.6L1075.5 1198.1L1086 1194.3M1099.3 1194.7L1100.7 1194.9M1114 1196.8L1115.4 1197.1M1128.7 1200.2L1139.2 1204.5L1141.2 1204.9M1154.4 1201.3L1155.8 1201.5M1169.1 1205.3L1170.4 1205.9M1183.7 1210.1L1196.2 1207.8M1209.5 1205.6L1210.9 1205.4M1224.2 1203.6L1225.6 1203.4M1238.8 1208.2L1245.2 1210.2L1247 1210.2L1251.4 1209.7M1264.7 1208.4L1266.1 1208.4M1279.4 1208.5L1280.8 1208.8M1294.1 1210.1L1302.5 1209.6L1306.6 1209M1319.9 1209.8L1321.3 1210.2M1334.5 1207.7L1335.9 1207.4M1349.2 1211.9L1351 1211.9L1361.7 1210.5M1375.1 1209.9L1376.4 1210M1389.8 1210.4L1391.1 1210.4M1404.4 1212.2L1408.5 1213.4L1410 1213.6L1411.8 1213.5L1417 1212.5M1430.3 1210.6L1431.7 1210.6M1445 1211.3L1446.4 1211.4M1459.7 1213L1466 1213.8L1472.3 1214.2M1485.5 1212.8L1486.9 1212.3M1500.2 1210.7L1501.6 1210.8M1514.9 1212.1L1523 1215.9L1524.5 1216L1527.4 1215.2M1540.7 1212.7L1542 1212.8M1555.3 1210.9L1556.7 1211.2M1570 1213.1L1582.6 1213.7M1595.9 1213.1L1597.3 1212.7M1610.5 1210.6L1611.9 1210.9M1625.2 1212.1L1634.2 1210.6L1637.8 1210.6M1651.1 1211.3L1652.5 1211.4M1665.8 1212.1L1667.2 1212.2M1680.5 1212.9L1693.1 1213.4M1706.4 1212.8L1707.8 1212.4M1721 1211.4L1722.4 1212M1735.6 1211.4L1738.5 1210.1L1740.2 1209.8L1748.1 1210.8M1761.5 1211.9L1762.8 1211.9M1776.1 1211.6L1777.5 1211.8M1790.8 1213L1798.5 1213"/>
<path stroke="#00e000" stroke-width="7.8" d="M268.5 1191.8h0M274.2 1183.2h0M275 1170h0M275.4 1156.7h0M275.9 1143.5h0M276.3 1130.2h0M276.8 1117h0M276.9 1103.7h0M277.1 1090.5h0M277.2 1077.2h0M277.4 1064h0M277.6 1050.7h0M277.7 1037.5h0M277.9 1024.2h0M278 1011h0M278.2 997.7h0M278.3 984.5h0M278.5 971.2h0M278.6 958h0M278.8 944.8h0M278.9 931.5h0M279.1 918.3h0M279.3 905h0M279.4 891.8h0M279.6 878.5h0M279.7 865.3h0M279.9 852h0M280 838.8h0M280.2 825.5h0M280.3 812.3h0M280.5 799h0M280.6 785.8h0M280.8 772.5h0M281 759.3h0M281.1 746h0M281.3 732.8h0M281.4 719.5h0M281.6 706.3h0M281.7 693h0M281.9 679.8h0M282 666.5h0M282.2 653.3h0M282.3 640h0M282.5 626.8h0M282.7 613.5h0M282.8 600.3h0M283 587h0M283.1 573.8h0M283.3 560.5h0M283.4 547.3h0M283.6 534h0M283.8 520.8h0M284 507.5h0M284.2 494.3h0M284.4 481h0M284.6 467.8h0M284.8 454.5h0M285 441.3h0M285.1 428h0M285.4 414.8h0M285.6 401.5h0M285.9 388.3h0M286.3 375.1h0M286.6 361.8h0M286.9 348.6h0M287.2 335.3h0M287.5 322.1h0M287.9 308.8h0M288.3 295.6h0M288.6 282.3h0M289 270.8h0M289.2 284h0M289.4 297.3h0M289.6 310.5h0M289.9 323.8h0M290.1 337h0M290.3 350.2h0M290.5 363.5h0M290.7 376.7h0M290.9 390h0M291.3 403.2h0M291.8 416.5h0M292.3 429.7h0M292.9 443h0M293.3 456.2h0M293.7 469.4h0M294 482.7h0M294.4 495.9h0M294.8 509.2h0M295.2 522.4h0M295.6 535.7h0M296 548.9h0M296.4 562.2h0M296.7 575.4h0M297.1 588.6h0M297.5 601.9h0M297.9 615.1h0M298.3 628.4h0M298.7 641.6h0M299.1 654.9h0M299.4 668.1h0M299.8 681.4h0M300.3 680.1h0M300.8 666.8h0M301.4 653.6h0M301.9 640.4h0M302.5 627.1h0M303 613.9h0M303.6 600.6h0M304.1 587.4h0M304.6 574.2h0M305.2 560.9h0M305.8 547.7h0M306.4 534.5h0M307 521.2h0M307.6 508h0M308.2 494.7h0M308.8 481.5h0M309.3 485.7h0M309.8 498.9h0M310.3 512.2h0M310.8 525.4h0M311.4 538.7h0M311.9 551.9h0M312.4 565.1h0M312.9 578.4h0M313.5 591.6h0M314.1 604.9h0M314.7 618.1h0M315.3 631.3h0M316 644.6h0M316.6 657.8h0M317.2 671h0M318.1 670.7h0M319.2 657.5h0M320.4 644.3h0M321.5 631.1h0M322.7 617.9h0M323.9 604.7h0M325.1 591.5h0M326.4 586h0M327.6 599.2h0M328.8 612.4h0M330 625.6h0M331.3 638.7h0M332.6 651.9h0M333.8 665.1h0M335.1 678.3h0M336.4 691.5h0M339 690.1h0M342.4 677.6h0M344.5 684.1h0M346.2 697.2h0M347.9 710.4h0M349.6 723.5h0M351.4 728.6h0M352.7 715.4h0M354.2 702.2h0M355.7 689.1h0M357.9 699.7h0M360.1 712.8h0M362.1 725.9h0M363.5 739h0M364.7 752.2h0M365.7 765.4h0M368.6 777.8h0M373.4 784.5h0M377.7 790.9h0M380.9 802.2h0M385.9 809.4h0M390.4 819.4h0M394.7 830.2h0M399 841h0M404 845.4h0M408.9 852.4h0M412.9 864h0M417.6 872.8h0M422.6 880h0M427.5 887.1h0M432.5 894.2h0M437.4 901.3h0M442.4 908.4h0M447.3 915.5h0M452.3 922.6h0M457.2 929.7h0M462.2 936.8h0M467.1 943.9h0M472.1 951.1h0M477 958.2h0M482 965.1h0M487 971.2h0M492 975.7h0M497 981.8h0M502 987.5h0M506.9 995h0M509.6 1007.1h0M510.3 1020.3h0M510.8 1033.6h0M511.4 1046.8h0M512.4 1060h0M513.3 1073.2h0M513.8 1086.5h0M514.3 1098.3h0M514.8 1085h0M515.4 1071.8h0M516.4 1058.6h0M520.3 1047h0M522.9 1035.4h0M523.6 1022.1h0M524.1 1008.9h0M525.7 995.8h0M528.5 983.1h0M532.5 988.1h0M534.7 1001.1h0M537.1 1014.1h0M538.3 1027.3h0M543 1027.4h0M548 1031h0M553 1037h0M558.1 1038.8h0M563.2 1038.4h0M568.1 1045.2h0M573.2 1048.8h0M578.3 1049.1h0M583.3 1055.3h0M588.4 1051.3h0M590.2 1040.3h0M592.2 1027.3h0M595.2 1039.2h0M599.1 1051h0M603 1061.4h0M605.7 1074.3h0M611.1 1072.2h0M616.8 1075.7h0M622.5 1079.5h0M628.4 1082.5h0M634.5 1086.5h0M640.6 1091.2h0M646.9 1095.2h0M653.2 1100.5h0M659.9 1103.9h0M666.5 1109.3h0M670.2 1120.9h0M677 1122.7h0M683.2 1120.8h0M689.9 1113.5h0M697.2 1111.7h0M703.7 1120.8h0M710.7 1127.8h0M718 1129.8h0M725.4 1131.9h0M732.6 1137h0M740 1140.5h0M746.3 1147.3h0M748.6 1160.3h0M751 1161.4h0M753.6 1148.4h0M756.7 1135.6h0M762.5 1126.4h0M767.8 1135.2h0M770.1 1148.2h0M772.9 1160h0M780 1159.2h0M787.2 1161.5h0M793.5 1167.1h0M800.9 1162.8h0M808.4 1160h0M815.9 1159h0M823.3 1163.7h0M830.9 1163.9h0M838 1170.3h0M845.6 1167.7h0M853.1 1165.1h0M860.1 1172.1h0M867.7 1169.8h0M875.2 1173.3h0M882.8 1176.7h0M890.5 1179h0M898.2 1181.3h0M905.2 1188.8h0M911.4 1190.8h0M917.1 1182.6h0M924.8 1183.1h0M932.4 1187.1h0M940.1 1191.1h0M947.8 1194.4h0M955.6 1194.3h0M963.4 1193.8h0M971.2 1194.5h0M979 1197.1h0M986.7 1200.9h0M993 1191.3h0M998.7 1190.3h0M1004.5 1201.4h0M1011.7 1207.4h0M1018.9 1202.2h0M1026.8 1205.4h0M1034.7 1206.4h0M1042.6 1203.9h0M1050.6 1202.3h0M1058.5 1200.4h0M1066.3 1201.7h0M1073.2 1210.6h0M1080 1203.3h0M1088 1201.7h0M1095.9 1205.7h0M1103.8 1201.5h0M1111.9 1204.2h0M1120 1207.4h0M1128.1 1208.8h0M1136.3 1209.1h0M1144.3 1211.5h0M1152.5 1207h0M1160.9 1209h0M1169.3 1212.2h0M1177.7 1216.2h0M1186.4 1216.9h0M1195 1215h0M1203.7 1212.7h0M1212.6 1212.7h0M1221.5 1213.4h0M1230.4 1211.5h0M1238.6 1217.4h0M1247.7 1216.3h0M1256.7 1213.5h0M1265.9 1215.8h0M1275.1 1213.1h0M1284.5 1214h0M1293.7 1217.7h0M1303.2 1216.6h0M1310.9 1218.9h0M1319.2 1214.4h0M1328.9 1215.8h0M1338.7 1215h0M1348.6 1216.1h0M1358.6 1216.5h0M1368.6 1215.1h0M1378.5 1214.1h0M1387.9 1212.9h0M1397.9 1215.5h0M1408.3 1217.4h0M1418.8 1218.7h0M1429.3 1217.2h0M1440 1216.4h0M1450.8 1216.9h0M1461.6 1217.2h0M1472.5 1217.6h0M1483.2 1215.8h0M1493.7 1216h0M1504.3 1215.8h0M1514.9 1215.6h0M1525.6 1217.6h0M1536.5 1217.6h0M1547.1 1215.9h0M1557.7 1215.8h0M1568.4 1215.6h0M1579.1 1216.5h0M1589.9 1215.1h0M1600.7 1214.7h0M1611.5 1216.1h0M1621.8 1211.9h0M1632 1216.6h0M1642.6 1214.3h0M1653.4 1215.9h0M1664.1 1213.7h0M1675 1213.2h0M1685.7 1215.4h0M1696.6 1215.4h0M1707.4 1213.9h0M1718.2 1213.9h0M1728.9 1213.1h0M1739.7 1212.7h0M1750.5 1212.7h0M1761.3 1213.5h0M1772.2 1213.3h0M1782.6 1209.5h0M1793.1 1212.7h0"/>
</g>
<g stroke="#000" stroke-width="6.9" fill="none">
<path d="M268.5 1354.5 V1329.0"/>
<path d="M651.5 1354.5 V1329.0"/>
<path d="M1033.5 1354.5 V1329.0"/>
<path d="M1416.5 1354.5 V1329.0"/>
<path d="M1798.5 1354.5 V1329.0"/>
<path d="M229.4 1190.5 H254.8"/>
<path d="M229.4 861.5 H254.8"/>
<path d="M229.4 532.5 H254.8"/>
<path d="M229.4 204.5 H254.8"/>
</g>
<rect x="229.4" y="39.5" width="1607.1" height="1315.0" fill="none" stroke="#000" stroke-width="6.9"/>
<text x="268.5" y="1447.6" font-size="82" text-anchor="middle">0</text>
<text x="651.5" y="1447.6" font-size="82" text-anchor="middle">50</text>
<text x="1033.9" y="1447.6" font-size="82" text-anchor="middle">100</text>
<text x="1417.5" y="1447.6" font-size="82" text-anchor="middle">150</text>
<text x="1801.1" y="1447.6" font-size="82" text-anchor="middle">200</text>
<text x="202.8" y="1215.3" font-size="82" text-anchor="end">0</text>
<text x="202.8" y="886.3" font-size="82" text-anchor="end">10</text>
<text x="202.8" y="557.3" font-size="82" text-anchor="end">20</text>
<text x="202.8" y="229.3" font-size="82" text-anchor="end">30</text>
<text x="1035.3" y="1553.3" font-size="68.4" text-anchor="middle">Time/μs</text>
<text transform="translate(81.9 697.8) rotate(-90)" font-size="68.4" text-anchor="middle">The current into the mine through the tower/kA</text>
<rect x="1302.1" y="86.4" width="515.5" height="516.7" fill="#fff" stroke="#000" stroke-width="1.3"/>
<g fill="none" stroke-linecap="round">
<path stroke="#000000" stroke-width="8.0" d="M1311.7 132.2 H1444.4"/>
<path stroke="#ff0000" stroke-width="8.0" stroke-dasharray="25.8 39.7" d="M1311.7 217.1 H1444.4"/>
<path stroke="#800080" stroke-width="8.0" stroke-dasharray="3 36.2" d="M1311.7 301.3 H1444.4"/>
<path stroke="#000080" stroke-width="8.0" stroke-dasharray="32 24 3 23.4" d="M1311.7 385.5 H1444.4"/>
<path stroke="#ff6600" stroke-width="8.0" stroke-dasharray="22.7 24 2.5 24 2.5 24" d="M1311.7 469.4 H1444.4"/>
<path stroke="#00e000" stroke-width="7.4" stroke-dasharray="0.1 13.15" d="M1311.7 553.6 H1444.4"/>
</g>
<text x="1477.2" y="157.5" font-size="68.0"><tspan font-style="italic">ρ</tspan>=200Ω·m</text>
<text x="1477.2" y="242.4" font-size="68.0"><tspan font-style="italic">ρ</tspan>=500Ω·m</text>
<text x="1477.2" y="326.6" font-size="68.0"><tspan font-style="italic">ρ</tspan>=800Ω·m</text>
<text x="1477.2" y="410.8" font-size="68.0"><tspan font-style="italic">ρ</tspan>=1000Ω·m</text>
<text x="1477.2" y="494.7" font-size="68.0"><tspan font-style="italic">ρ</tspan>=1200Ω·m</text>
<text x="1477.2" y="578.9" font-size="68.0"><tspan font-style="italic">ρ</tspan>=1500Ω·m</text>
</svg></body></html>
